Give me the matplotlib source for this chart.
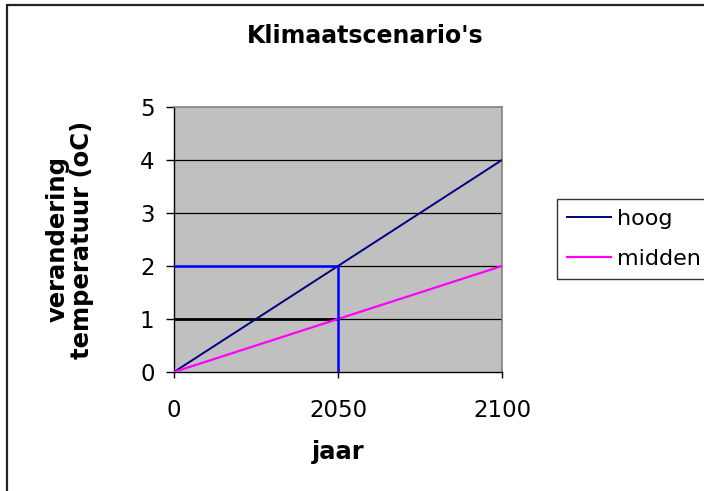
import matplotlib
matplotlib.use('Agg')
import matplotlib.pyplot as plt
from matplotlib.patches import Rectangle

# Scenario data (temperature change in degrees C)
jaren = ['0', '2050', '2100']
hoog = [0, 2, 4]
midden = [0, 1, 2]

fig = plt.figure(figsize=(7.04, 4.91), dpi=100)
fig.patch.set_facecolor('white')

# Chart area border (only top and left fall inside the image)
fig.patches.append(Rectangle((7 / 704, -0.1), 1.2, 1.1 - 5 / 491, transform=fig.transFigure,
                             fill=False, edgecolor='#222222', linewidth=1.6, clip_on=False))

ax = fig.add_axes([174 / 704, 1 - 372 / 491, 328 / 704, 265 / 491])
ax.set_facecolor('#C0C0C0')

x = list(range(len(jaren)))

# Gridlines
for v in range(1, 5):
    ax.axhline(v, color='black', linewidth=0.9, zorder=1)

ax.plot(x, hoog, color='#000080', linewidth=1.4, label='hoog', zorder=3)
ax.plot(x, midden, color='#FF00FF', linewidth=1.6, label='midden', zorder=3)

# Reading lines at 2050
ax.plot([0, x[1]], [midden[1], midden[1]], color='black', linewidth=2.0, zorder=2)
ax.plot([0, x[1], x[1]], [hoog[1], hoog[1], 0], color='#0000FF', linewidth=1.8, zorder=4)

ax.set_xlim(0, 2)
ax.set_ylim(0, 5)
ax.set_xticks(x)
ax.set_xticklabels(jaren)
ax.set_yticks(range(6))

for side in ['top', 'right']:
    ax.spines[side].set_color('#808080')
    ax.spines[side].set_linewidth(1.2)
ax.spines['left'].set_color('black')
ax.spines['bottom'].set_color('black')
ax.spines['left'].set_linewidth(1.0)
ax.spines['bottom'].set_linewidth(1.0)

ax.tick_params(axis='y', direction='out', length=6, width=1, pad=8, labelsize=16.5)
ax.tick_params(axis='x', direction='out', length=4.5, width=1, pad=15, labelsize=16.5)

ax.set_xlabel('jaar', fontsize=17.5, fontweight='bold', labelpad=13)
ax.set_ylabel('verandering\ntemperatuur (oC)', fontsize=17.5, fontweight='bold', labelpad=33,
              linespacing=1.05)

fig.text(365 / 704, 1 - 36 / 491, "Klimaatscenario's", fontsize=17, fontweight='bold',
         ha='center', va='center')

leg = fig.legend(loc='upper left', bbox_to_anchor=(557 / 704, 1 - 199 / 491), fontsize=16,
                 frameon=True, fancybox=False, edgecolor='black', handlelength=2.0,
                 handletextpad=0.25, labelspacing=0.88, borderpad=0.45, borderaxespad=0)
leg.get_frame().set_linewidth(1.0)

fig.savefig('out.png', dpi=100)
